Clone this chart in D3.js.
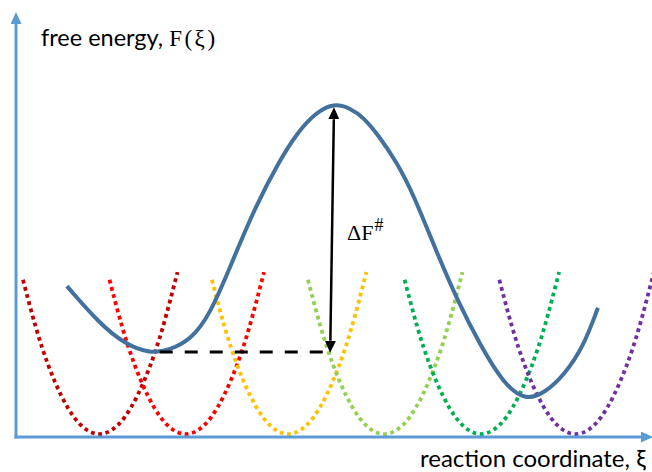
<!DOCTYPE html>
<html>
<head>
<meta charset="utf-8">
<script src="https://cdn.jsdelivr.net/npm/d3@7"></script>
<style>
  body { margin: 0; background: #fff; }
  svg { display: block; }
</style>
</head>
<body>
<div id="chart"></div>
<script>
// umbrella windows: where each bias well bottoms out (reaction coordinate units)
const windowCenters = [13.1, 26.7, 42.8, 57.9, 73.1, 88.0];
const windowColors = ["#c00000", "#ff0000", "#ffc000", "#92d050", "#00b050", "#7030a0"];
// shape of one bias well (offset from its bottom)
const biasDx   = [-12, -10, -8, -6, -4, -2, 0, 2, 4, 6, 8, 10, 12.3];
const biasRise = [36.3, 25.2, 16.1, 9.1, 4.0, 1.0, 0, 1.0, 4.0, 9.1, 16.1, 25.2, 38.1];
const biasFloor = 0.7;

// free energy profile F(xi)
const feXi = [8.0, 13.2, 17.1, 21.1, 24.2, 27.4, 30.5, 34.1, 37.6, 41.5, 44.2, 47.0, 50.0,
              52.5, 54.6, 57.2, 59.9, 62.4, 66.0, 69.5, 73.0, 76.6, 80.0, 83.2, 86.3, 89.2, 91.5];
const feF  = [35.5, 26.6, 21.9, 19.6, 20.5, 22.8, 28.7, 41.6, 54.1, 65.2, 71.5, 76.2, 78.6,
              77.4, 75.3, 70.6, 64.5, 57.4, 44.0, 31.8, 21.6, 12.7, 8.5, 10.4, 14.8, 21.2, 30.4];

// barrier arrow and the dashed reference level
const arrowXi = [49.4, 50.0];
const arrowF  = [19.8, 77.6];
const dashXi  = [22.6, 48.6];
const dashF   = [20.0, 20.0];

const width = 652, height = 472;
const axisColor = "#5b9bd5";
const curveColor = "#41719c";

let svg = d3.select("#chart")
    .append("svg")
    .attr("width", width)
    .attr("height", height);

let x = d3.scaleLinear().domain([0, 100]).range([16, 652]);
let y = d3.scaleLinear().domain([0, 100]).range([437, 12]);

let defs = svg.append("defs");
function addHead(id, color, len, wid) {
    defs.append("marker")
        .attr("id", id)
        .attr("markerUnits", "userSpaceOnUse")
        .attr("viewBox", `0 0 ${len} ${wid}`)
        .attr("refX", 0)
        .attr("refY", wid / 2)
        .attr("markerWidth", len)
        .attr("markerHeight", wid)
        .attr("orient", "auto-start-reverse")
        .append("path")
        .attr("d", `M0,0L${len},${wid / 2}L0,${wid}Z`)
        .attr("fill", color);
}
addHead("axisHead", axisColor, 12, 11);
addHead("blackHead", "#000", 12, 11);

// bias wells (dotted)
let wellLine = d3.line()
    .x(d => x(d[0]))
    .y(d => y(d[1]))
    .curve(d3.curveNatural);

let wells = windowCenters.map((c, i) => ({
    color: windowColors[i],
    pts: biasDx.map((dx, j) => [c + dx, biasFloor + biasRise[j]])
}));

svg.append("g").selectAll("path")
    .data(wells)
    .enter()
    .append("path")
    .attr("d", d => wellLine(d.pts))
    .attr("fill", "none")
    .attr("stroke", d => d.color)
    .attr("stroke-width", 3.8)
    .attr("stroke-dasharray", "3.8 3.6");

// axes (no ticks, just arrows)
let x0 = x.range()[0], y0 = y.range()[0];
svg.append("line")
    .attr("x1", x0).attr("y1", y0 + 1.5)
    .attr("x2", x0).attr("y2", y.range()[1] + 12)
    .attr("stroke", axisColor).attr("stroke-width", 3)
    .attr("marker-end", "url(#axisHead)");
svg.append("line")
    .attr("x1", x0 - 1.5).attr("y1", y0)
    .attr("x2", x.range()[1] - 11).attr("y2", y0)
    .attr("stroke", axisColor).attr("stroke-width", 3)
    .attr("marker-end", "url(#axisHead)");

// free energy curve (smoothed through the read points)
let feLine = d3.line()
    .x(d => x(d[0]))
    .y(d => y(d[1]))
    .curve(d3.curveBasis);

svg.append("path")
    .datum(feXi.map((v, i) => [v, feF[i]]))
    .attr("d", feLine)
    .attr("fill", "none")
    .attr("stroke", curveColor)
    .attr("stroke-width", 4)
    .attr("stroke-linecap", "butt");

// dashed level of the first minimum
svg.append("line")
    .attr("x1", x(dashXi[0])).attr("y1", y(dashF[0]))
    .attr("x2", x(dashXi[1])).attr("y2", y(dashF[1]))
    .attr("stroke", "#000")
    .attr("stroke-width", 3)
    .attr("stroke-dasharray", "13 12");

// barrier arrow, heads on both ends
let ax1 = x(arrowXi[0]), ay1 = y(arrowF[0]), ax2 = x(arrowXi[1]), ay2 = y(arrowF[1]);
let len = Math.hypot(ax2 - ax1, ay2 - ay1);
let ux = (ax2 - ax1) / len, uy = (ay2 - ay1) / len;
svg.append("line")
    .attr("x1", ax1 + ux * 12).attr("y1", ay1 + uy * 12)
    .attr("x2", ax2 - ux * 12).attr("y2", ay2 - uy * 12)
    .attr("stroke", "#000")
    .attr("stroke-width", 2.5)
    .attr("marker-start", "url(#blackHead)")
    .attr("marker-end", "url(#blackHead)");

// labels
let yLab = svg.append("text")
    .attr("x", 41)
    .attr("y", 46)
    .style("fill", "#000");
yLab.append("tspan").style("font-family", "Lato, sans-serif").style("font-size", "23.5px").text("free energy, ");
yLab.append("tspan").style("font-family", "'Liberation Serif', serif").style("font-size", "23px")
    .style("letter-spacing", "2.5px").text("F(ξ)");

svg.append("text")
    .attr("x", 420)
    .attr("y", 467)
    .style("font-family", "Lato, sans-serif")
    .style("font-size", "24px")
    .style("fill", "#000")
    .text("reaction coordinate, ξ");

let dLab = svg.append("text")
    .attr("x", 347)
    .attr("y", 240)
    .style("font-family", "'Liberation Serif', serif")
    .style("font-size", "22px")
    .style("fill", "#000");
dLab.append("tspan").text("ΔF");
dLab.append("tspan").attr("dy", -9).attr("dx", 1).style("font-size", "18px").text("#");
</script>
</body>
</html>
